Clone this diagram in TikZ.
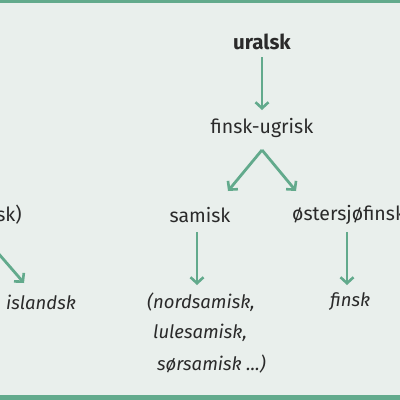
\documentclass[tikz,border=0pt]{standalone}
\usepackage{fontspec}
\setmainfont{Fira Sans}
\usetikzlibrary{arrows.meta}
\definecolor{bg}{HTML}{E9EFEC}
\definecolor{grn}{HTML}{62AA8C}
\definecolor{txt}{HTML}{2A2A2A}
\begin{document}
\begin{tikzpicture}[x=1pt,y=-1pt,
  lbl/.style={inner sep=0pt, text=txt, font=\fontsize{19.5}{22}\selectfont},
  ilbl/.style={lbl, font=\fontsize{18.5}{22}\selectfont\itshape},
  arr/.style={draw=grn, line width=2.8pt, -{Straight Barb[length=6pt,width=13pt,line width=2.6pt]}}]
\useasboundingbox (0,0) rectangle (400,400);
\fill[bg] (0,0) rectangle (400,400);
\fill[grn] (0,0) rectangle (400,3);
\fill[grn] (0,395) rectangle (400,400);
\clip (0,0) rectangle (400,400);
% nodes
\node[lbl, font=\fontsize{20.5}{22}\selectfont\bfseries] (ural) at (262,42) {uralsk};
\node[lbl] (fu) at (262,128) {finsk-ugrisk};
\node[lbl] (sam) at (200,215) {samisk};
\node[lbl, anchor=west] (ost) at (292,215) {østersjøfinsk};
\node[lbl, anchor=east] (nord) at (22,215) {sk)};
\node[ilbl, anchor=west] (isl) at (6,302) {islandsk};
\node[ilbl, anchor=west] (samx) at (147,302) {(nordsamisk,};
\node[ilbl, anchor=west] (lule) at (153,333) {lulesamisk,};
\node[ilbl, anchor=west] (sor) at (157,364) {sørsamisk ...)};
\node[ilbl, anchor=west] (fin) at (330,302) {finsk};
% coordinates
\coordinate (a1) at (262,57);
\coordinate (a2) at (262,110);
\coordinate (b0) at (262,150);
\coordinate (b1) at (228,191);
\coordinate (b2) at (296,191);
\coordinate (c1) at (197,232);
\coordinate (c2) at (197,285);
\coordinate (d1) at (347,232);
\coordinate (d2) at (347,285);
\coordinate (e1) at (-2,253);
\coordinate (e2) at (24,283);
% arrows
\draw[arr] (a1) -- (a2);
\draw[arr] (b0) -- (b1);
\draw[arr] (b0) -- (b2);
\draw[arr] (c1) -- (c2);
\draw[arr] (d1) -- (d2);
\draw[arr] (e1) -- (e2);
\end{tikzpicture}
\end{document}
